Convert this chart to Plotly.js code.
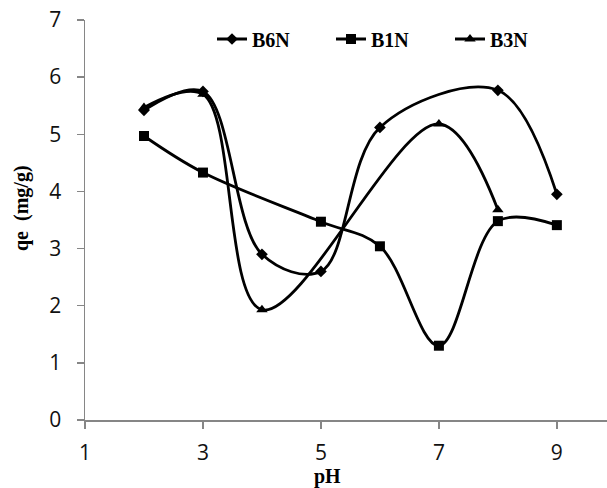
<!DOCTYPE html>
<html>
<head>
<meta charset="utf-8">
<script src="https://cdn.plot.ly/plotly-3.0.1.min.js"></script>
<style>html,body{margin:0;padding:0;background:#fff;}#chart{width:607px;height:488px;}</style>
</head>
<body>
<div id="chart"></div>
<script>
const phB6N = [2, 3, 4, 5, 6, 8, 9];
const qeB6N = [5.42, 5.75, 2.9, 2.6, 5.12, 5.77, 3.95];
const phB1N = [2, 3, 5, 6, 7, 8, 9];
const qeB1N = [4.97, 4.33, 3.47, 3.04, 1.3, 3.48, 3.41];
const phB3N = [2, 3, 4, 7, 8];
const qeB3N = [5.47, 5.7, 1.93, 5.18, 3.68];
const xTicks = [1, 3, 5, 7, 9];
const yTicks = [0, 1, 2, 3, 4, 5, 6, 7];

const lineStyle = {color: '#000', width: 2.8, shape: 'spline', smoothing: 1};
const traces = [
  {x: phB6N, y: qeB6N, name: 'B6N', mode: 'lines+markers', line: lineStyle,
   marker: {symbol: 'diamond', size: 9, color: '#000'}},
  {x: phB1N, y: qeB1N, name: 'B1N', mode: 'lines+markers', line: lineStyle,
   marker: {symbol: 'square', size: 10, color: '#000'}},
  {x: phB3N, y: qeB3N, name: 'B3N', mode: 'lines+markers', line: lineStyle,
   marker: {symbol: 'triangle-up', size: 10, color: '#000'}}
];

const tickFont = {family: 'Open Sans, sans-serif', size: 21, color: '#111'};
const layout = {
  width: 607, height: 488,
  margin: {l: 85, r: 0, t: 20, b: 68},
  paper_bgcolor: '#fff', plot_bgcolor: '#fff',
  showlegend: true,
  legend: {orientation: 'h', x: (212 - 85) / 522, y: (420 - 39) / 400, xanchor: 'left', yanchor: 'middle',
           font: {family: 'Liberation Serif, serif', size: 20, color: '#000', weight: 'bold'},
           bgcolor: 'rgba(0,0,0,0)', entrywidth: 74, entrywidthmode: 'pixels', tracegroupgap: 0},
  xaxis: {range: [1, 9.85], tickvals: xTicks, ticktext: xTicks.map(String),
          showgrid: false, zeroline: false, showline: true, linecolor: '#868686', linewidth: 1.5,
          ticks: 'outside', ticklen: 7, tickcolor: '#868686', tickwidth: 1.5, ticklabelstandoff: 6,
          tickfont: tickFont},
  yaxis: {range: [0, 7], tickvals: yTicks, ticktext: yTicks.map(String),
          showgrid: false, zeroline: false, showline: true, linecolor: '#868686', linewidth: 1.5,
          ticks: 'outside', ticklen: 7, tickcolor: '#868686', tickwidth: 1.5, ticklabelstandoff: 11,
          tickfont: tickFont},
  annotations: [
    {text: 'pH', xref: 'paper', yref: 'paper', x: (327 - 85) / 522, y: (420 - 476) / 400,
     xanchor: 'center', yanchor: 'middle', showarrow: false,
     font: {family: 'Liberation Serif, serif', size: 20, color: '#000', weight: 'bold'}},
    {text: 'qe  (mg/g)', xref: 'paper', yref: 'paper', x: (21 - 85) / 522, y: (420 - 208) / 400,
     xanchor: 'center', yanchor: 'middle', showarrow: false, textangle: -90,
     font: {family: 'Liberation Serif, serif', size: 20, color: '#000', weight: 'bold'}}
  ]
};

Plotly.newPlot('chart', traces, layout, {displayModeBar: false, staticPlot: true});
</script>
</body>
</html>
